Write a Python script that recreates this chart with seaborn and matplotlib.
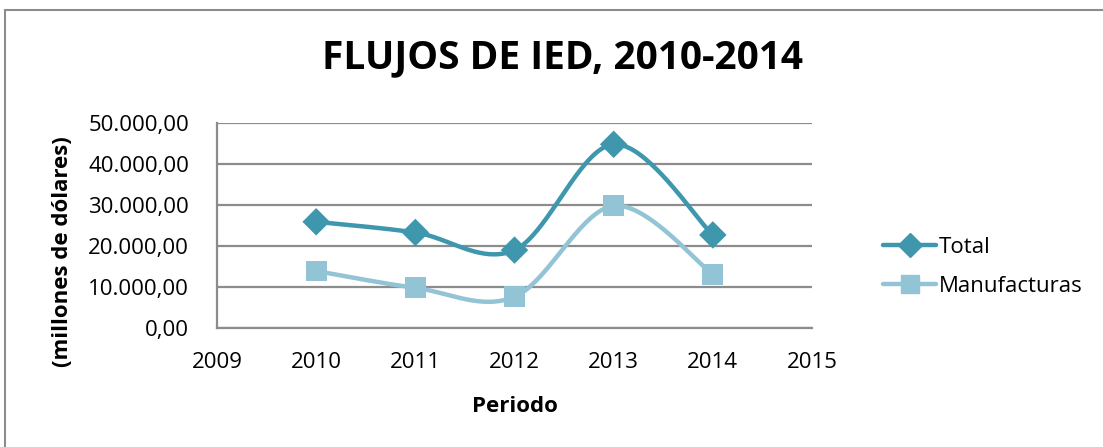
import numpy as np
import pandas as pd
import matplotlib
matplotlib.use("Agg")
import matplotlib.pyplot as plt
import seaborn as sns
from matplotlib.lines import Line2D
from matplotlib.patches import Rectangle
from matplotlib.ticker import FuncFormatter

years = [2010, 2011, 2012, 2013, 2014]
total = [25900, 23300, 19000, 44800, 22700]
manufacturas = [13900, 9800, 7600, 29800, 13100]

TOTAL_COLOR = "#3f97ae"
MANUF_COLOR = "#93c4d6"
FONT = ["Open Sans", "DejaVu Sans"]


def smooth(x, y, n=40):
    # Excel-style smoothed line: cubic Bezier through points, tangent = (next - prev) / 6
    x = np.asarray(x, float)
    y = np.asarray(y, float)
    px = np.concatenate([[x[0]], x, [x[-1]]])
    py = np.concatenate([[y[0]], y, [y[-1]]])
    xs, ys = [], []
    t = np.linspace(0, 1, n)
    for i in range(1, len(px) - 2):
        p0 = np.array([px[i], py[i]])
        p3 = np.array([px[i + 1], py[i + 1]])
        c1 = p0 + (np.array([px[i + 1], py[i + 1]]) - np.array([px[i - 1], py[i - 1]])) / 6
        c2 = p3 - (np.array([px[i + 2], py[i + 2]]) - np.array([px[i], py[i]])) / 6
        b = ((1 - t) ** 3)[:, None] * p0 + (3 * (1 - t) ** 2 * t)[:, None] * c1 \
            + (3 * (1 - t) * t ** 2)[:, None] * c2 + (t ** 3)[:, None] * p3
        xs.extend(b[:, 0])
        ys.extend(b[:, 1])
    return np.array(xs), np.array(ys)


sns.set_style("white")
plt.rcParams["font.family"] = FONT
plt.rcParams["text.color"] = "black"
plt.rcParams["axes.labelcolor"] = "black"

fig = plt.figure(figsize=(11.03, 4.47), dpi=100)
ax = fig.add_axes([217 / 1103, 1 - 328 / 447, (812 - 217) / 1103, (328 - 123) / 447])

df = pd.DataFrame({"year": years, "Total": total, "Manufacturas": manufacturas})

for col, color, marker, ms in [("Total", TOTAL_COLOR, "D", 14), ("Manufacturas", MANUF_COLOR, "s", 15)]:
    sx, sy = smooth(df["year"], df[col])
    ax.plot(sx, sy, color=color, lw=3.2, solid_capstyle="round", zorder=3)
    sns.scatterplot(x="year", y=col, data=df, ax=ax, marker=marker, s=ms ** 2,
                    color=color, edgecolor="none", zorder=4, legend=False)

ax.set_xlim(2009, 2015)
ax.set_ylim(0, 50000)
ax.set_xticks(range(2009, 2016))
ax.set_yticks(range(0, 50001, 10000))
ax.yaxis.set_major_formatter(FuncFormatter(
    lambda v, p: f"{v:,.2f}".replace(",", "X").replace(".", ",").replace("X", ".")))
ax.grid(axis="y", color="#8c8c8c", lw=1.6)
ax.set_axisbelow(True)
for s in ["top", "right"]:
    ax.spines[s].set_visible(False)
for s in ["left", "bottom"]:
    ax.spines[s].set_color("#8c8c8c")
    ax.spines[s].set_linewidth(1.6)
ax.tick_params(axis="both", length=0, labelsize=16, labelcolor="black")
ax.tick_params(axis="y", pad=20)
ax.tick_params(axis="x", pad=17)

ax.set_xlabel("Periodo", fontsize=16, fontweight="bold", labelpad=17, color="black")
ax.set_ylabel("")
fig.text(63 / 1103, 1 - 252 / 447, "(millones de dólares)", rotation=90, ha="center",
         va="center", fontsize=16, fontweight="bold", color="black")

fig.text(562 / 1103, 1 - 68 / 447, "FLUJOS DE IED, 2010-2014", ha="center", va="baseline",
         fontsize=28, fontweight="bold", color="black")

handles = [
    Line2D([], [], color=TOTAL_COLOR, lw=3.2, marker="D", ms=12),
    Line2D([], [], color=MANUF_COLOR, lw=3.2, marker="s", ms=13),
]
fig.legend(handles, ["Total", "Manufacturas"], loc="center left",
           bbox_to_anchor=(863 / 1103, 1 - 267 / 447), frameon=False, fontsize=16,
           handlelength=2.4, handletextpad=0.1, labelspacing=0.8, labelcolor="black")

fig.patches.append(Rectangle((5 / 1103, -0.1), 1.2, 1.1 - 10 / 447, transform=fig.transFigure,
                             fill=False, edgecolor="#8c8c8c", lw=1.5))

fig.savefig("out.png", dpi=100)
